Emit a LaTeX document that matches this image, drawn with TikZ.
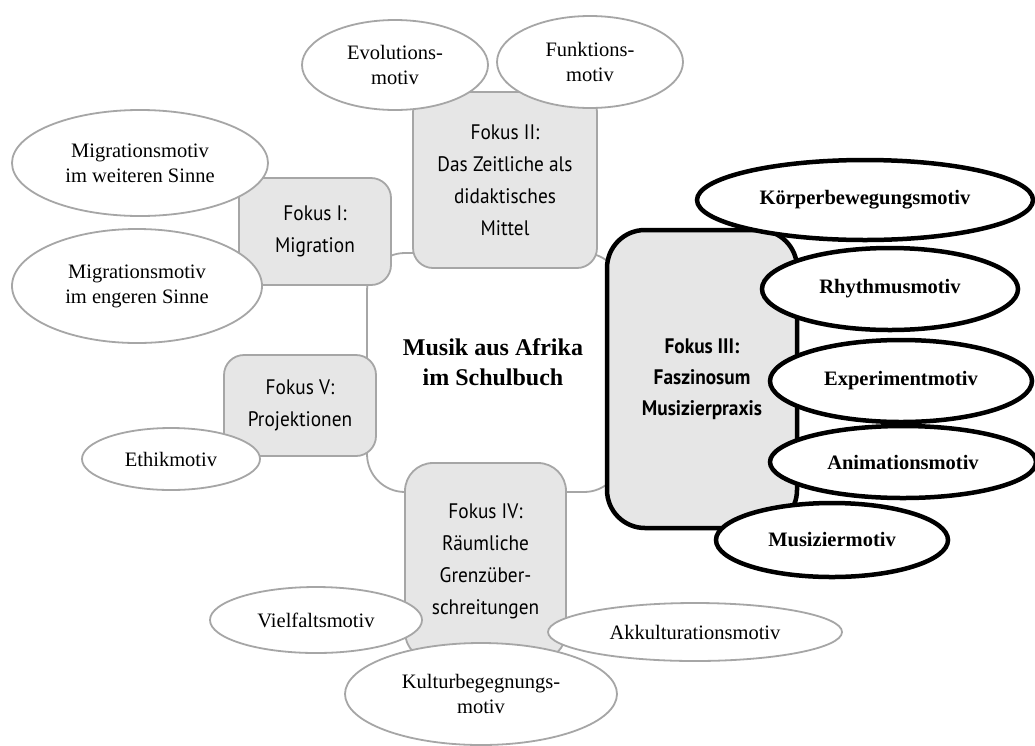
\documentclass[tikz,border=0pt]{standalone}
\usepackage{fontspec}
\setmainfont{Liberation Serif}
\newfontfamily\boxfont[FakeStretch=0.92]{PT Sans}
\usetikzlibrary{shapes.geometric}

\definecolor{linegray}{HTML}{A6A6A6}
\definecolor{boxgray}{HTML}{E6E6E6}

\begin{document}
\begin{tikzpicture}[x=1pt,y=-1pt,
  hubbox/.style={draw=linegray, line width=1.8pt, fill=white, rounded corners=38pt,
    rectangle, inner sep=0pt},
  fokus/.style={draw=linegray, line width=1.8pt, fill=boxgray, rounded corners=20pt,
    rectangle, inner sep=0pt, align=center,
    font={\boxfont\fontsize{21}{32}\selectfont}},
  fokusmain/.style={fokus, draw=black, line width=4.5pt, rounded corners=38pt,
    font={\boxfont\bfseries\fontsize{21}{31}\selectfont}},
  motiv/.style={ellipse, draw=linegray, line width=1.8pt, fill=white,
    inner sep=0pt, align=center, font={\fontsize{20.5}{25}\selectfont}},
  motivmain/.style={motiv, draw=black, line width=4.5pt,
    font={\bfseries\fontsize{20.5}{25}\selectfont}}
]
\useasboundingbox[fill=white] (0,0) rectangle (1035,745);

% central frame joining the five foci
\node[hubbox, minimum width=255pt, minimum height=239pt] (hub) at (494.5,372.5) {};
\node[align=center, inner sep=0pt, font={\bfseries\fontsize{24}{30}\selectfont}]
  (title) at (493,362) {Musik aus Afrika\\im Schulbuch};

% foci
\node[fokus, minimum width=152pt, minimum height=107pt] (f1) at (315,231.5)
  {Fokus I:\\Migration};
\node[fokus, minimum width=184pt, minimum height=176pt] (f2) at (505,180)
  {Fokus II:\\Das Zeitliche als\\didaktisches\\Mittel};
\node[fokus, minimum width=152pt, minimum height=101pt] (f5) at (300,405.5)
  {Fokus V:\\Projektionen};
\node[fokus, rounded corners=28pt, minimum width=161pt, minimum height=197pt] (f4) at (485.5,561.5)
  {Fokus IV:\\Räumliche\\Grenzüber-\\schreitungen};
\node[fokusmain, minimum width=190pt, minimum height=298pt] (f3) at (702,379)
  {Fokus III:\\Faszinosum\\Musizierpraxis};

% motifs of focus II
\node[motiv, minimum width=186pt, minimum height=90pt] (evo) at (395,65) {Evolutions-\\motiv};
\node[motiv, minimum width=186pt, minimum height=92pt] (funk) at (590,62) {Funktions-\\motiv};

% motifs of focus I
\node[motiv, minimum width=256pt, minimum height=106pt] (migw) at (140,163)
  {Migrationsmotiv\\im weiteren Sinne};
\node[motiv, minimum width=250pt, minimum height=114pt] (mige) at (137,286)
  {Migrationsmotiv\\im engeren Sinne};

% motif of focus V
\node[motiv, minimum width=178pt, minimum height=62pt] (ethik) at (171,459) {Ethikmotiv};

% motifs of focus III
\node[motivmain, minimum width=336pt, minimum height=80pt] (koerper) at (865,200) {Körperbewegungsmotiv};
\node[motivmain, minimum width=256pt, minimum height=82pt] (rhythm) at (890,289) {Rhythmusmotiv};
\node[motivmain, minimum width=262pt, minimum height=82pt] (exper) at (901,381) {Experimentmotiv};
\node[motivmain, minimum width=266pt, minimum height=72pt] (anim) at (903,462) {Animationsmotiv};
\node[motivmain, minimum width=232pt, minimum height=74pt] (musiz) at (832,540) {Musiziermotiv};

% motifs of focus IV
\node[motiv, minimum width=212pt, minimum height=66pt] (vielf) at (316,620) {Vielfaltsmotiv};
\node[motiv, minimum width=294pt, minimum height=58pt] (akk) at (695,632) {Akkulturationsmotiv};
\node[motiv, minimum width=272pt, minimum height=102pt] (kultur) at (481,694)
  {Kulturbegegnungs-\\motiv};
\end{tikzpicture}
\end{document}
